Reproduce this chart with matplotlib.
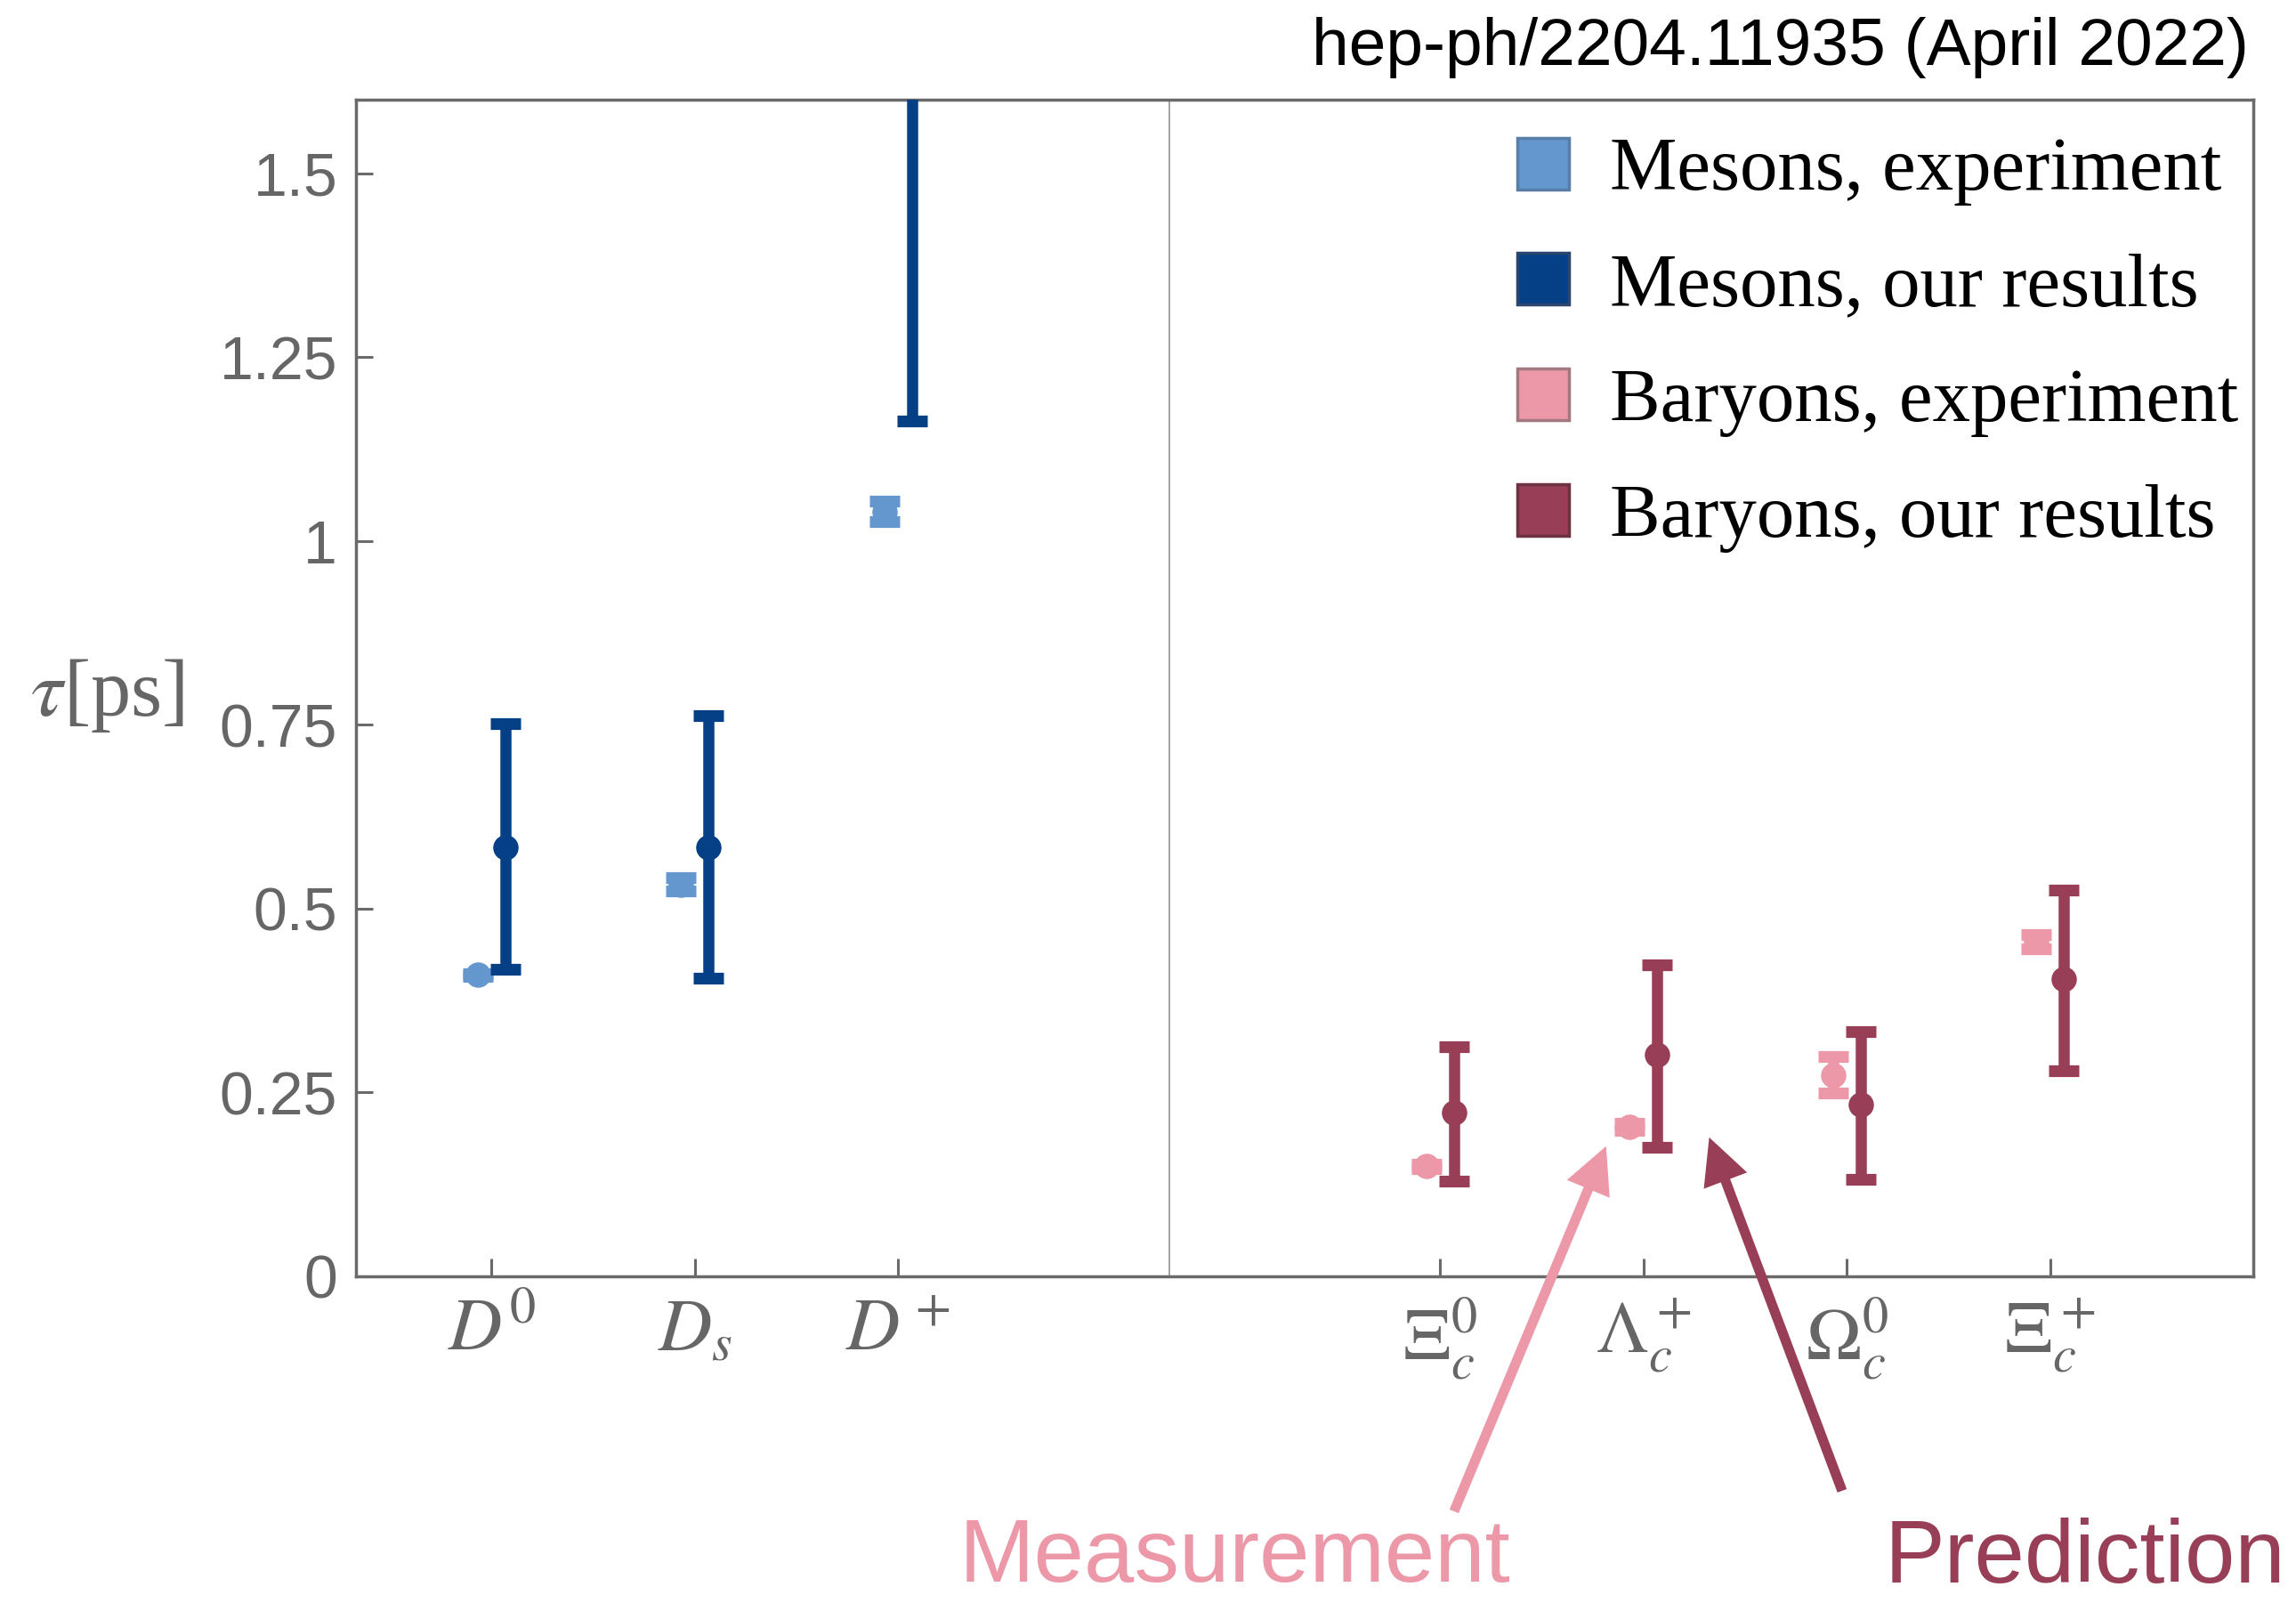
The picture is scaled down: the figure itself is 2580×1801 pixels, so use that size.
import numpy as np
import matplotlib
matplotlib.use("Agg")
import matplotlib.pyplot as plt
from matplotlib.lines import Line2D

plt.rcParams['mathtext.fontset'] = 'stix'
plt.rcParams['font.family'] = ['Liberation Sans', 'DejaVu Sans']

# particles on the x axis
meson_labels = [r'$D^0$', r'$D_s$', r'$D^+$']
baryon_labels = [r'$\Xi_c^0$', r'$\Lambda_c^+$', r'$\Omega_c^0$', r'$\Xi_c^+$']
meson_pos = [1, 2, 3]
baryon_pos = [17 / 3, 20 / 3, 23 / 3, 26 / 3]

# lifetimes in ps: measured value +- error
meson_exp = [0.410, 0.533, 1.040]
meson_exp_err = [0.002, 0.009, 0.014]
baryon_exp = [0.150, 0.203, 0.274, 0.455]
baryon_exp_err = [0.003, 0.005, 0.025, 0.010]

# our predictions: central value and lower / upper edge of the band
meson_th = [0.583, 0.583, 2.0]
meson_th_lo = [0.417, 0.406, 1.163]
meson_th_hi = [0.751, 0.763, 2.8]
baryon_th = [0.223, 0.301, 0.234, 0.404]
baryon_th_lo = [0.130, 0.176, 0.132, 0.279]
baryon_th_hi = [0.312, 0.423, 0.333, 0.525]

ytick_vals = [0, 0.25, 0.5, 0.75, 1, 1.25, 1.5]
ytick_labels = ['0', '0.25', '0.5', '0.75', '1', '1.25', '1.5']

c_mes_exp = '#6497cd'
c_mes_th = '#054086'
c_bar_exp = '#ec98a8'
c_bar_th = '#983e56'
gray = '#6a6a6a'
shift = 0.068


def points(ax, x, y, lo, hi, color, z):
    x = np.asarray(x, float)
    y = np.asarray(y, float)
    err = [y - np.asarray(lo), np.asarray(hi) - y]
    ax.errorbar(x, y, yerr=err, fmt='o', ms=19.5, color=color, mec=color,
                elinewidth=9, capsize=12, capthick=9.5, zorder=z)


fig = plt.figure(figsize=(25.8, 18.01), dpi=100)
ax = fig.add_axes([0.15504, 0.20378, 0.82636, 0.73403])

mexp = np.array(meson_exp)
bexp = np.array(baryon_exp)
points(ax, np.array(meson_pos) - shift, mexp, mexp - meson_exp_err, mexp + meson_exp_err, c_mes_exp, 3)
points(ax, np.array(meson_pos) + shift, meson_th, meson_th_lo, meson_th_hi, c_mes_th, 4)
points(ax, np.array(baryon_pos) - shift, bexp, bexp - baryon_exp_err, bexp + baryon_exp_err, c_bar_exp, 3)
points(ax, np.array(baryon_pos) + shift, baryon_th, baryon_th_lo, baryon_th_hi, c_bar_th, 4)

# separator between mesons and baryons
ax.axvline(13 / 3, color='#8c8c8c', lw=1.1, zorder=1)

ax.set_xlim(1 / 3, 29 / 3)
ax.set_ylim(0, 1.6)
ax.set_xticks(meson_pos + baryon_pos)
ax.set_xticklabels(meson_labels + baryon_labels)
ax.set_yticks(ytick_vals)
ax.set_yticklabels(ytick_labels)

for s in ax.spines.values():
    s.set_color(gray)
    s.set_linewidth(2.5)
ax.tick_params(axis='x', direction='in', length=14.5, width=2.2, color=gray,
               labelsize=60, labelcolor='#666666', pad=16)
ax.tick_params(axis='y', direction='in', length=13.7, width=2.2, color=gray,
               labelsize=49, labelcolor='#666666', pad=15)

ax.set_ylabel(r'$\tau$[ps]', rotation=0, fontsize=65, color='#666666',
              family='Liberation Serif', ha='center', va='center')
ax.yaxis.set_label_coords(-0.131, 0.79 / 1.6)

handles = [
    Line2D([], [], ls='none', marker='s', ms=42, mfc=c_mes_exp, mec='#587ea8', mew=2.5),
    Line2D([], [], ls='none', marker='s', ms=42, mfc=c_mes_th, mec='#2a4670', mew=2.5),
    Line2D([], [], ls='none', marker='s', ms=42, mfc=c_bar_exp, mec='#a07880', mew=2.5),
    Line2D([], [], ls='none', marker='s', ms=42, mfc=c_bar_th, mec='#6e3343', mew=2.5),
]
names = ['Mesons, experiment', 'Mesons, our results',
         'Baryons, experiment', 'Baryons, our results']
ax.legend(handles, names, loc='upper left', bbox_to_anchor=(1701 / 2580, 1 - 154 / 1801),
          bbox_transform=fig.transFigure, frameon=False,
          prop={'family': 'Liberation Serif', 'size': 61},
          handlelength=0.79, handletextpad=0.48, labelspacing=0.62,
          borderpad=0, borderaxespad=0)

fig.text(2527 / 2580, 1 - 54 / 1801, 'hep-ph/2204.11935 (April 2022)',
         ha='right', va='center', fontsize=54, color='black')

# arrows pointing at the Lambda_c entries
ax.annotate('', xy=(6.483, 0.177), xycoords='data', xytext=(0.6333, 0.0572),
            textcoords='figure fraction', annotation_clip=False,
            arrowprops=dict(arrowstyle='simple,head_length=0.935,head_width=0.935,tail_width=0.2',
                            mutation_scale=40, fc=c_bar_exp, ec='none', lw=0,
                            shrinkA=0, shrinkB=0))
ax.annotate('', xy=(6.990, 0.189), xycoords='data', xytext=(0.8023, 0.0700),
            textcoords='figure fraction', annotation_clip=False,
            arrowprops=dict(arrowstyle='simple,head_length=0.935,head_width=0.935,tail_width=0.2',
                            mutation_scale=40, fc=c_bar_th, ec='none', lw=0,
                            shrinkA=0, shrinkB=0))
fig.text(1388 / 2580, 3 / 1801, 'Measurement', ha='center', va='bottom',
         fontsize=73, color=c_bar_exp)
fig.text(2343 / 2580, 23 / 1801, 'Prediction', ha='center', va='baseline',
         fontsize=73, color=c_bar_th)

fig.savefig('out.png', dpi=100)
